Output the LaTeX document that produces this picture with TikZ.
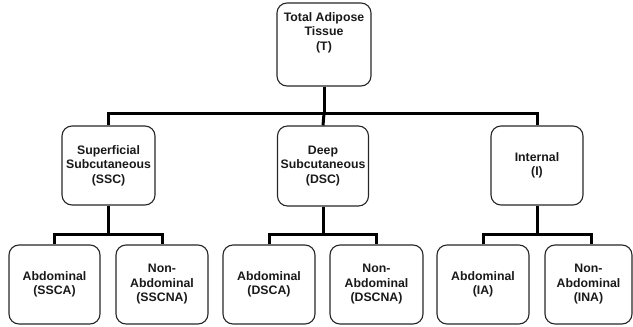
\documentclass[tikz,border=0pt]{standalone}
\usepackage{fontspec}
\setmainfont{Liberation Sans}
\begin{document}
\begin{tikzpicture}[x=1pt,y=-1pt,
  box/.style={draw=black!85, line width=1.1pt, rounded corners=10pt, minimum width=#1, minimum height=80pt, inner sep=0pt,
    align=center, font=\fontsize{12.3}{14.5}\selectfont\bfseries, text=black!90},
  box/.default=92pt,
  lbl/.style={align=center, font=\fontsize{12.3}{14.5}\selectfont\bfseries, text=black!90, inner sep=0pt},
  conn/.style={draw=black, line width=3pt}]
\useasboundingbox (0,0) rectangle (633,327);
% top
\node[box=94pt, minimum height=83pt] (T) at (324,44.5) {};
\node[lbl] (Tl) at ([yshift=-30pt]T.north) {Total Adipose\\Tissue\\(T)};
% middle
\node[box=93pt, minimum height=79pt] (SSC) at (108.5,165.5) {Superficial\\Subcutaneous\\(SSC)};
\node[box=91pt] (DSC) at (323,166) {Deep\\Subcutaneous\\(DSC)};
\node[box=92pt, minimum height=79pt] (I) at (537,165.5) {Internal\\(I)};
% bottom
\node[box=91pt, minimum height=79pt] (SSCA) at (54.5,284.5) {Abdominal\\(SSCA)};
\node[box=92pt, minimum height=79pt] (SSCNA) at (162,284.5) {Non-\\Abdominal\\(SSCNA)};
\node[box=92pt, minimum height=79pt] (DSCA) at (269,284.5) {Abdominal\\(DSCA)};
\node[box=93pt, minimum height=79pt] (DSCNA) at (376.5,284.5) {Non-\\Abdominal\\(DSCNA)};
\node[box=92pt, minimum height=79pt] (IA) at (483,284.5) {Abdominal\\(IA)};
\node[box=87pt, minimum height=79pt] (INA) at (588.5,284.5) {Non-\\Abdominal\\(INA)};
% connectors
\draw[conn] (T.south) -- ++(0,27) coordinate (jt);
\draw[conn] (SSC.north) |- (jt) -| (I.north);
\draw[conn] (jt) -- (DSC.north);
\draw[conn] (SSC.south) -- ++(0,29) coordinate (j1);
\draw[conn] (SSCA.north) |- (j1) -| (SSCNA.north);
\draw[conn] (DSC.south) -- ++(0,28) coordinate (j2);
\draw[conn] (DSCA.north) |- (j2) -| (DSCNA.north);
\draw[conn] (I.south) -- ++(0,29) coordinate (j3);
\draw[conn] (IA.north) |- (j3) -| ([xshift=2.5pt]INA.north);
\end{tikzpicture}
\end{document}
